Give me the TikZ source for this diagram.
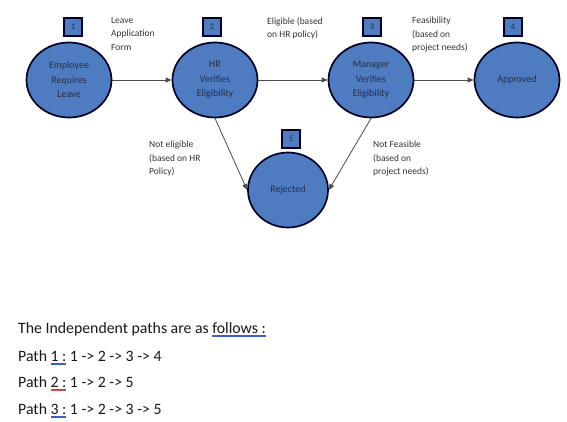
\documentclass[tikz,border=0pt]{standalone}
\usepackage{fontspec}
\setmainfont{Carlito}
\usetikzlibrary{arrows.meta,shapes.geometric}
\definecolor{cblue}{HTML}{4F7CC0}
\definecolor{ctext}{HTML}{26304A}
\definecolor{sqblue}{HTML}{3C5FC8}
\definecolor{sqred}{HTML}{D85050}
\newcommand\squl[3]{\leavevmode\setbox0\hbox{#3}\rlap{\color{#1}\rule[-2.6pt]{\wd0}{0.6pt}}\rlap{\color{#2}\rule[-4.0pt]{\wd0}{0.6pt}}\box0\relax}
\begin{document}
\begin{tikzpicture}[x=1pt,y=-1pt,
  state/.style={ellipse,draw=black!85!blue,line width=1.7pt,fill=cblue,minimum width=85pt,minimum height=75pt,inner sep=0pt,font=\fontsize{10}{14.5}\selectfont,text=ctext,align=center},
  numbox/.style={draw=black!85!blue,line width=1.3pt,fill=cblue,minimum width=18pt,minimum height=18pt,inner sep=0pt,font=\fontsize{8.5}{9}\selectfont,text=ctext},
  lbl/.style={align=left,anchor=north west,inner sep=0pt,font=\fontsize{9.5}{13.5}\selectfont,text=black!80},
  arr/.style={-{Stealth[length=6pt,width=5pt,inset=0pt]},draw=black!70,line width=0.8pt},
  body/.style={anchor=base west,inner sep=0pt,font=\fontsize{15.8}{18}\selectfont,text=black!90}
]
\useasboundingbox[fill=white] (0,0) rectangle (567,422);
\node[state] (n1) at (69,80) {Employee\\Requires\\Leave};
\node[state] (n2) at (215,80) {HR\\Verifies\\Eligibility};
\node[state] (n3) at (371,80) {Manager\\Verifies\\Eligibility};
\node[state] (n4) at (517,80) {Approved};
\node[state,minimum width=80pt] (n5) at (288,190) {Rejected};
\node[numbox] (b1) at (73,27) {1};
\node[numbox] (b2) at (212,27) {2};
\node[numbox] (b3) at (372,27) {3};
\node[numbox] (b4) at (513,27) {4};
\node[numbox] (b5) at (291,139) {5};
\draw[arr] (n1) -- (n2);
\draw[arr] (n2) -- (n3);
\draw[arr] (n3) -- (n4);
\draw[arr] (n2.south) -- (n5.west);
\draw[arr] (n3.south) -- (n5.east);
\node[lbl] (l1) at (111,17) {Leave\\Application\\Form};
\node[lbl] (l2) at (267,17) {Eligible (based\\on HR policy)};
\node[lbl] (l3) at (412,17) {Feasibility\\(based on\\project needs)};
\node[lbl] (l4) at (149,141) {Not eligible\\(based on HR\\Policy)};
\node[lbl] (l5) at (373,141) {Not Feasible\\(based on\\project needs)};
\node[body] (t0) at (18,333) {The Independent paths are as \squl{sqblue}{sqblue}{follows :}};
\node[body] (t1) at (18,361) {Path \squl{sqblue}{sqblue}{1 :} 1 -> 2 -> 3 -> 4};
\node[body] (t2) at (18,387) {Path \squl{sqblue}{sqred}{2 :} 1 -> 2 -> 5};
\node[body] (t3) at (18,414) {Path \squl{sqblue}{sqblue}{3 :} 1 -> 2 -> 3 -> 5};
\end{tikzpicture}
\end{document}
